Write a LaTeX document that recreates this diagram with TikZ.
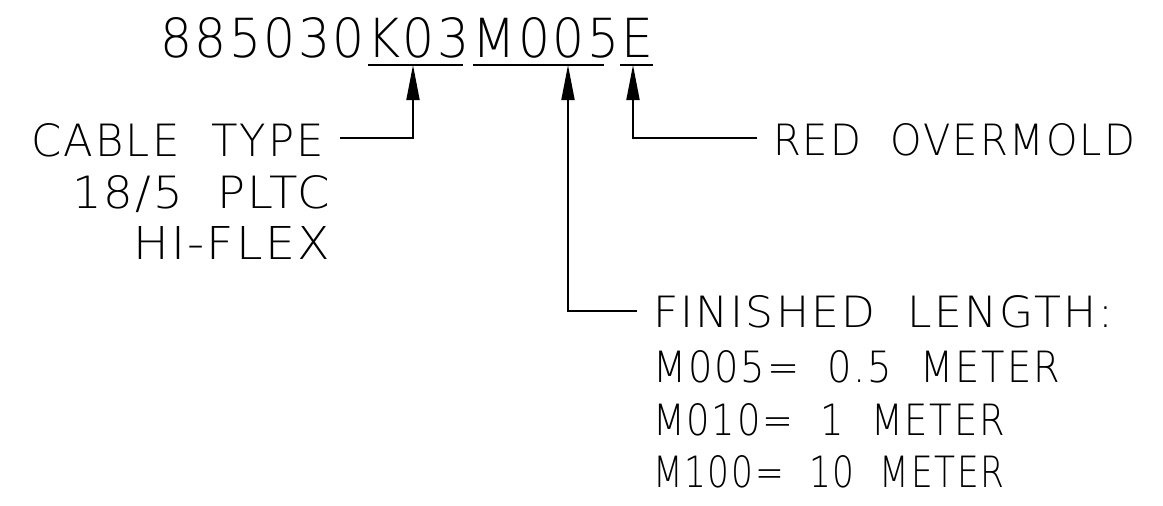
\documentclass[tikz,border=0pt]{standalone}
\usepackage{graphicx}
\usepackage{fontspec}
\setmainfont{DejaVuSans-ExtraLight.ttf}[LetterSpace=5,WordSpace=2]
\usetikzlibrary{arrows.meta}
\newcommand\fitbox[3]{\resizebox{#1pt}{#2pt}{#3\kern-0.05em}}
\begin{document}
\begin{tikzpicture}[x=1pt,y=-1pt,
  lbl/.style={anchor=base west, inner sep=0pt, outer sep=0pt},
  conn/.style={line width=1.8pt},
  arr/.style={conn, -{Triangle[length=35pt,width=13pt]}}]
\useasboundingbox[fill=white] (0,0) rectangle (1163,506);
% texts
\node[lbl] (pn) at (160,57) {\fitbox{491}{40}{885030K03M005E}};
\node[lbl] (cable) at (31,156) {\fitbox{291}{33}{CABLE TYPE}};
\node[lbl] (pltc) at (72,208) {\fitbox{256}{33}{18/5 PLTC}};
\node[lbl] (hiflex) at (133,259) {\fitbox{195}{33}{HI-FLEX}};
\node[lbl] (red) at (773,155) {\fitbox{360}{32}{RED OVERMOLD}};
\node[lbl] (fin) at (653,327) {\fitbox{458}{32}{FINISHED LENGTH:}};
\node[lbl] (m005) at (653,382) {\fitbox{405}{32}{M005= 0.5 METER}};
\node[lbl] (m010) at (653,435) {\fitbox{350}{32}{M010= 1 METER}};
\node[lbl] (m100) at (653,487) {\fitbox{350}{32}{M100= 10 METER}};
% underlines
\draw[conn] (368,65) -- (463,65);
\draw[conn] (473,65) -- (604,65);
\draw[conn] (620,65) -- (653,65);
% arrow tips and leader starts
\coordinate (k03) at (413,65);
\coordinate (mlen) at (568,65);
\coordinate (ecol) at (633,65);
\coordinate (cs) at (340,138);
\coordinate (rs) at (757,138);
\coordinate (fs) at (637,311);
% connectors
\draw[arr] (cs) -| (k03);
\draw[arr] (rs) -| (ecol);
\draw[arr] (fs) -| (mlen);
\end{tikzpicture}
\end{document}
